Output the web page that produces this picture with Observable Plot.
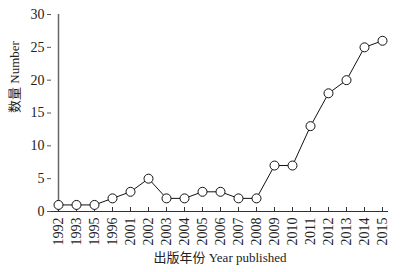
<!DOCTYPE html>
<html>
<head>
<meta charset="utf-8">
<script src="https://cdn.jsdelivr.net/npm/d3@7"></script>
<script src="https://cdn.jsdelivr.net/npm/@observablehq/plot@0.6"></script>
<style>
  html, body { margin: 0; padding: 0; background: #fff; }
</style>
</head>
<body>
<div id="chart"></div>
<script>
const years = ["1992","1993","1995","1996","2001","2002","2003","2004","2005","2006","2007","2008","2009","2010","2011","2012","2013","2014","2015"];
const counts = [1,1,1,2,3,5,2,2,3,3,2,2,7,7,13,18,20,25,26];
const yTicks = [0,5,10,15,20,25,30];
const xTitle = "出版年份 Year published";
const yTitle = "数量 Number";

const data = years.map((y, i) => ({year: y, n: counts[i]}));
const font = "'Liberation Serif', 'Times New Roman', 'Noto Sans CJK SC', serif";

const chart = Plot.plot({
  width: 410,
  height: 272,
  marginTop: 14,
  marginLeft: 51,
  marginRight: 22,
  marginBottom: 61,
  style: {fontFamily: font, fontSize: "14px", color: "#222", background: "#fff"},
  x: {type: "point", domain: years, padding: 0, inset: 0},
  y: {domain: [0, 30], inset: 0},
  marks: [
    Plot.ruleX([years[0]], {stroke: "#666", strokeWidth: 1.5}),
    Plot.ruleY([0], {stroke: "#333", strokeWidth: 1.2}),
    Plot.ruleX(years, {x: d => d, y1: 0, y2: 0, insetTop: -4, stroke: "#333"}),
    Plot.axisY({ticks: yTicks, tickSize: 4, tickPadding: 3, stroke: "#555", label: null, fontSize: 14}),
    Plot.axisX({tickSize: 0, tickRotate: -90, tickPadding: 6, label: null, fontSize: 14}),
    Plot.line(data, {x: "year", y: "n", stroke: "#111", strokeWidth: 1}),
    Plot.dot(data, {x: "year", y: "n", r: 4.5, fill: "#fff", stroke: "#111", strokeWidth: 1}),
    Plot.text([xTitle], {frameAnchor: "bottom", dy: 50, fontSize: 13, fill: "#222"}),
    Plot.text([yTitle], {frameAnchor: "left", dx: -37, rotate: -90, fontSize: 13, fill: "#222"})
  ]
});
document.getElementById("chart").appendChild(chart);
</script>
</body>
</html>
